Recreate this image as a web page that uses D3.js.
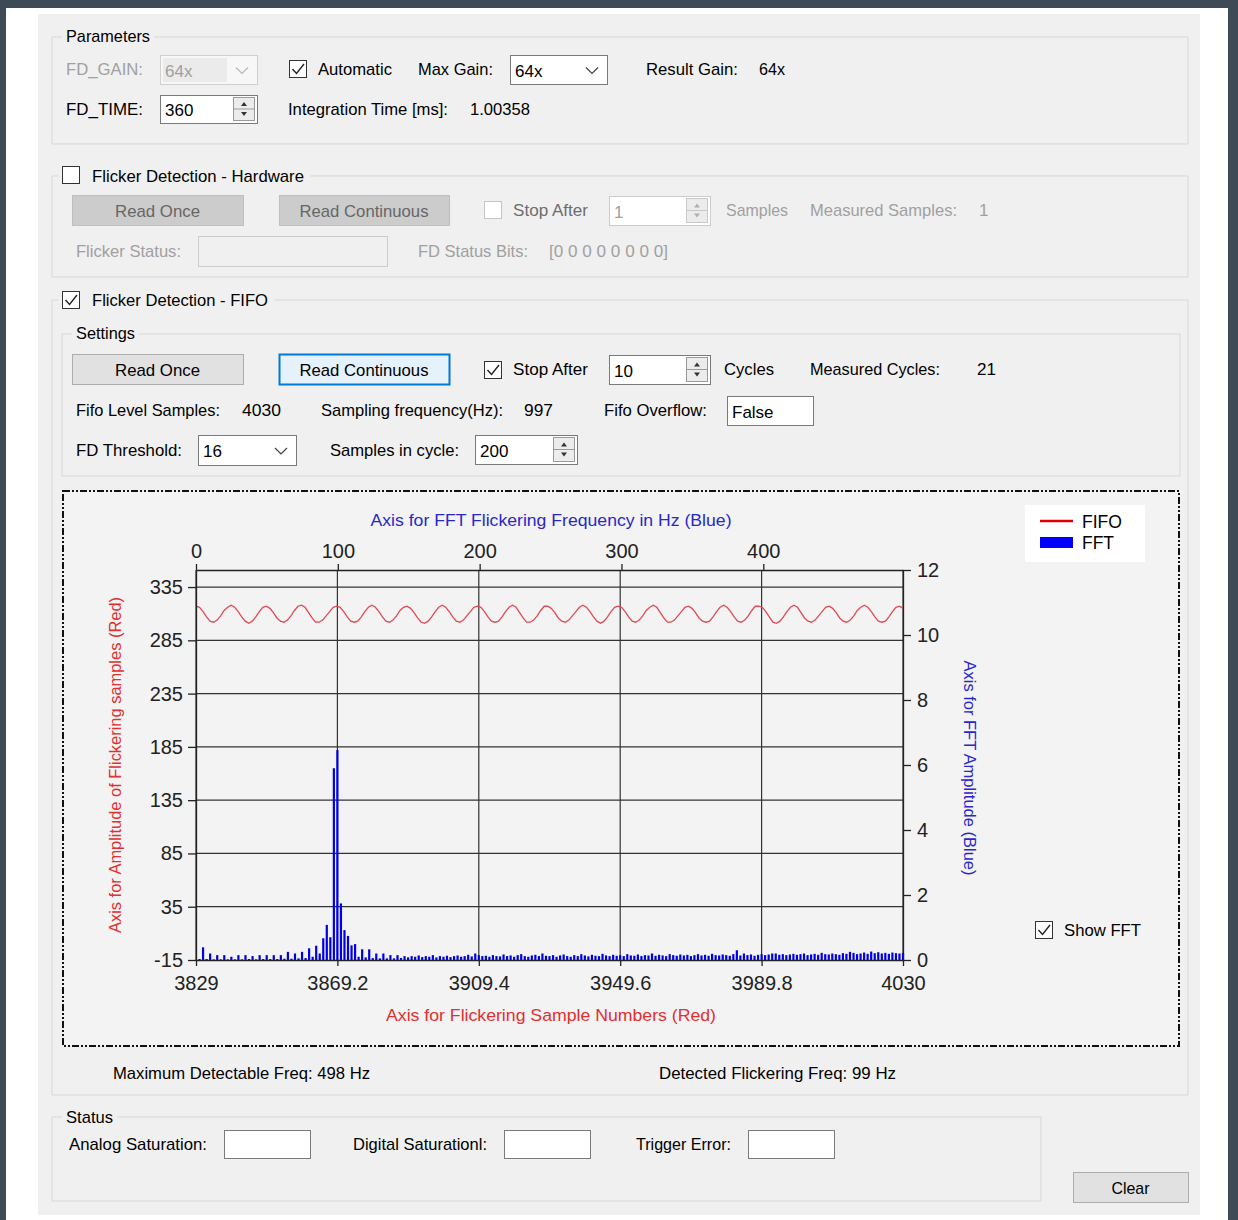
<!DOCTYPE html>
<html><head><meta charset="utf-8">
<script src="https://cdn.jsdelivr.net/npm/d3@7"></script>
<style>html,body{margin:0;padding:0;background:#fff;} svg{display:block;} text{font-family:"Liberation Sans",Arial,sans-serif;}</style>
</head><body>
<svg id="c" width="1238" height="1220"></svg>
<script>
// ---------------- chart data ----------------
const sampleTicks = [3829, 3869.2, 3909.4, 3949.6, 3989.8, 4030];
const freqTicks = [0, 100, 200, 300, 400];
const leftTicks = [-15, 35, 85, 135, 185, 235, 285, 335];
const rightTicks = [0, 2, 4, 6, 8, 10, 12];
const fifoStart = 3829;
const fifoSamples = [
 317,316,312,307,303,302,304,308,313,316,
 318,316,312,307,303,301,303,307,312,316,
 317,315,311,306,303,302,304,308,313,317,
 318,316,311,306,302,302,304,308,312,316,
 317,316,312,307,303,302,303,307,312,316,
 318,316,312,307,303,302,304,308,313,316,
 317,315,311,306,302,301,303,307,312,316,
 318,316,312,307,303,302,304,308,312,316,
 317,316,312,307,303,302,303,307,312,316,
 318,316,311,306,302,302,304,308,313,317,
 317,315,311,306,303,302,304,308,312,316,
 318,316,312,307,303,301,303,307,312,316,
 317,316,312,307,303,302,304,308,313,316,
 318,316,311,306,302,302,304,308,312,316,
 317,315,311,306,303,302,303,307,312,316,
 318,316,312,307,303,302,304,308,313,317,
 317,316,312,307,302,301,303,307,312,316,
 318,316,311,306,303,302,304,308,312,316,
 317,315,311,306,303,302,304,308,313,316,
 318,316,312,307,303,302,303,307,312,316,
 317,315
];
const samplingFreq = 997;
const fftSize = 400;
const fftAmplitude = [
 0,0.03,0.39,0.03,0.2,0.02,0.15,0.02,0.15,0.02,
 0.1,0.02,0.15,0.02,0.15,0.03,0.12,0.02,0.15,0.03,
 0.15,0.03,0.15,0.03,0.15,0.04,0.25,0.04,0.2,0.05,
 0.25,0.06,0.36,0.1,0.44,0.2,0.67,1.08,0.7,5.9,
 6.46,1.74,0.92,0.74,0.45,0.49,0.1,0.33,0.08,0.33,
 0.06,0.2,0.05,0.2,0.05,0.15,0.05,0.15,0.06,0.12,
 0.08,0.12,0.1,0.14,0.09,0.12,0.1,0.15,0.08,0.12,
 0.1,0.13,0.09,0.12,0.14,0.1,0.12,0.16,0.11,0.2,
 0.15,0.12,0.13,0.1,0.15,0.12,0.11,0.17,0.12,0.14,
 0.1,0.15,0.18,0.12,0.1,0.14,0.16,0.12,0.2,0.13,
 0.12,0.15,0.1,0.14,0.17,0.12,0.1,0.15,0.12,0.18,
 0.14,0.11,0.16,0.13,0.12,0.19,0.14,0.12,0.16,0.13,
 0.15,0.12,0.18,0.14,0.13,0.17,0.12,0.15,0.14,0.2,
 0.13,0.16,0.14,0.12,0.18,0.15,0.13,0.17,0.14,0.16,
 0.12,0.15,0.18,0.14,0.16,0.13,0.19,0.15,0.14,0.17,
 0.15,0.13,0.18,0.3,0.14,0.2,0.15,0.17,0.13,0.16,
 0.18,0.15,0.17,0.2,0.2,0.16,0.18,0.15,0.17,0.19,
 0.16,0.18,0.2,0.15,0.17,0.19,0.16,0.22,0.18,0.17,
 0.2,0.18,0.16,0.21,0.19,0.25,0.22,0.18,0.2,0.23,
 0.19,0.26,0.21,0.24,0.2,0.22,0.19,0.23,0.21,0.2,
 0.22
];
const legendItems = ["FIFO", "FFT"];

// ---------------- drawing ----------------
const svg = d3.select("#c");
const FONT = "'Liberation Sans',Arial,sans-serif";

function txt(x, y, s, o = {}) {
  const t = svg.append("text").attr("x", x).attr("y", y).attr("dy", "0.36em")
    .attr("font-size", o.size || 17).attr("fill", o.fill || "#000")
    .attr("text-anchor", o.anchor || "start").text(s);
  if (o.w) t.attr("textLength", o.w).attr("lengthAdjust", "spacingAndGlyphs");
  return t;
}
function rect(x, y, w, h, fill, stroke, sw) {
  return svg.append("rect").attr("x", x).attr("y", y).attr("width", w).attr("height", h)
    .attr("fill", fill).attr("stroke", stroke || "none").attr("stroke-width", sw || 1);
}
function group(x, y, w, h, g0, g1) {
  svg.append("path").attr("fill", "none").attr("stroke", "#d7d7d7").attr("stroke-width", 1)
    .attr("d", `M${g1},${y}H${x + w}V${y + h}H${x}V${y}H${g0}`);
}
function checkbox(x, y, checked, disabled) {
  rect(x + 0.5, y + 0.5, 17, 17, "#fff", disabled ? "#c6c6c6" : "#333", 1);
  if (checked) svg.append("path").attr("fill", "none").attr("stroke", "#222").attr("stroke-width", 1.4)
    .attr("d", `M${x + 3.5},${y + 9}L${x + 7.5},${y + 13.5}L${x + 15},${y + 4}`);
}
function spinner(x, y, h, disabled) {
  const c = disabled ? "#c8c8c8" : "#9a9a9a";
  rect(x + 0.5, y + 2.5, 21, h - 5, "#ececec", c, 1);
  svg.append("line").attr("x1", x + 1).attr("x2", x + 21).attr("y1", y + h / 2).attr("y2", y + h / 2).attr("stroke", c);
  const cx = x + 11, a = disabled ? "#b0b0b0" : "#333";
  svg.append("path").attr("fill", a).attr("d", `M${cx - 3},${y + h / 2 - 3}L${cx + 3},${y + h / 2 - 3}L${cx},${y + h / 2 - 7}Z`);
  svg.append("path").attr("fill", a).attr("d", `M${cx - 3},${y + h / 2 + 3}L${cx + 3},${y + h / 2 + 3}L${cx},${y + h / 2 + 7}Z`);
}
function numeric(x, y, w, h, s, disabled) {
  rect(x + 0.5, y + 0.5, w, h, "#fff", disabled ? "#cccccc" : "#7a7a7a", 1);
  txt(x + 5, y + h / 2 + 1, s, { fill: disabled ? "#a0a0a0" : "#000" });
  spinner(x + w - 24, y, h, disabled);
}
function combo(x, y, w, h, s, disabled) {
  if (disabled) {
    rect(x + 0.5, y + 0.5, w, h, "#f7f7f7", "#d0d0d0", 1);
    rect(x + 3, y + 3, w - 33, h - 5, "#ebebeb");
  } else rect(x + 0.5, y + 0.5, w, h, "#fff", "#7a7a7a", 1);
  txt(x + 5, y + h / 2 + 1, s, { fill: disabled ? "#a0a0a0" : "#000" });
  const cx = x + w - 15, cy = y + h / 2 + 1;
  svg.append("path").attr("fill", "none").attr("stroke", disabled ? "#b8b8b8" : "#444").attr("stroke-width", 1.2)
    .attr("d", `M${cx - 6},${cy - 3}L${cx},${cy + 3}L${cx + 6},${cy - 3}`);
}
function button(x, y, w, h, s, style, tw) {
  const st = {
    disabled: ["#cccccc", "#bfbfbf", 1, "#666666"],
    normal: ["#e1e1e1", "#adadad", 1, "#000"],
    focus: ["#e5f1fb", "#0078d7", 2, "#000"]
  }[style];
  rect(x + 0.5, y + 0.5, w, h, st[0], st[1], st[2]);
  txt(x + w / 2, y + h / 2 + 1, s, { fill: st[3], anchor: "middle", w: tw });
}
function textbox(x, y, w, h, s, disabled) {
  rect(x + 0.5, y + 0.5, w, h, disabled ? "#f0f0f0" : "#fff", disabled ? "#cccccc" : "#7a7a7a", 1);
  if (s) txt(x + 5, y + h / 2 + 1, s);
}

// window frame & panel
rect(0, 0, 1238, 1220, "#3e4a56");
rect(6, 8, 1222, 1212, "#ffffff");
rect(38, 14, 1162, 1201, "#f0f0f0");

const GRAY = "#a0a0a0";

// Parameters
group(52, 37, 1136, 107, 62, 154);
txt(66, 36, "Parameters", { w: 84 });
txt(66, 69, "FD_GAIN:", { w: 77, fill: GRAY });
combo(160, 55, 97, 29, "64x", true);
checkbox(289, 60, true, false);
txt(318, 69, "Automatic", { w: 74 });
txt(418, 69, "Max Gain:", { w: 75 });
combo(510, 55, 97, 29, "64x", false);
txt(646, 69, "Result Gain:", { w: 92 });
txt(759, 69, "64x", { w: 26 });
txt(66, 109, "FD_TIME:", { w: 77 });
numeric(160, 95, 97, 28, "360", false);
txt(288, 109, "Integration Time [ms]:", { w: 160 });
txt(470, 109, "1.00358", { w: 60 });

// Flicker Detection - Hardware
group(52, 176, 1136, 101, 58, 310);
checkbox(62, 166, false, false);
txt(92, 176, "Flicker Detection - Hardware", { w: 212 });
button(72, 195, 171, 30, "Read Once", "disabled", 85);
button(279, 195, 170, 30, "Read Continuous", "disabled", 129);
checkbox(484, 201, false, true);
txt(513, 210, "Stop After", { w: 75, fill: "#6d6d6d" });
numeric(609, 196, 101, 29, "1", true);
txt(726, 210, "Samples", { w: 62, fill: GRAY });
txt(810, 210, "Measured Samples:", { w: 147, fill: GRAY });
txt(979, 210, "1", { fill: GRAY });
txt(76, 251, "Flicker Status:", { w: 105, fill: GRAY });
textbox(198, 236, 189, 30, "", true);
txt(418, 251, "FD Status Bits:", { w: 110, fill: GRAY });
txt(549, 251, "[0 0 0 0 0 0 0 0]", { w: 119, fill: GRAY });

// Flicker Detection - FIFO
group(52, 300, 1136, 795, 58, 274);
checkbox(62, 291, true, false);
txt(92, 300, "Flicker Detection - FIFO", { w: 176 });
group(62, 334, 1118, 142, 72, 139);
txt(76, 333, "Settings", { w: 59 });
button(72, 354, 171, 30, "Read Once", "normal", 85);
button(279, 354, 170, 30, "Read Continuous", "focus", 129);
checkbox(484, 361, true, false);
txt(513, 369, "Stop After", { w: 75 });
numeric(609, 355, 101, 29, "10", false);
txt(724, 369, "Cycles", { w: 50 });
txt(810, 369, "Measured Cycles:", { w: 130 });
txt(977, 369, "21", { w: 19 });
txt(76, 410, "Fifo Level Samples:", { w: 144 });
txt(242, 410, "4030", { w: 39 });
txt(321, 410, "Sampling frequency(Hz):", { w: 182 });
txt(524, 410, "997", { w: 29 });
txt(604, 410, "Fifo Overflow:", { w: 103 });
textbox(727, 396, 86, 29, "False");
txt(76, 450, "FD Threshold:", { w: 106 });
combo(198, 435, 98, 30, "16", false);
txt(330, 450, "Samples in cycle:", { w: 129 });
numeric(475, 435, 102, 29, "200", false);

// chart frame (dash-dot-dot)
rect(63, 491, 1116, 555, "#f3f3f3", "#111", 2).attr("stroke-dasharray", "7,2,2,2,2,2");

// scales
const X0 = 196, X1 = 903, Y0 = 960, Y1 = 570;
const xS = d3.scaleLinear().domain([3829, 4030]).range([X0, X1]);
const xF = d3.scaleLinear().domain([0, 498.5]).range([X0, X1]);
const yL = d3.scaleLinear().domain([-15, 351]).range([Y0, Y1]);
const yR = d3.scaleLinear().domain([0, 12]).range([Y0, Y1]);

const plot = svg.append("g");
// grid
plot.selectAll("line.hg").data(leftTicks.filter(d => d > -15)).join("line")
  .attr("x1", X0).attr("x2", X1).attr("y1", d => yL(d)).attr("y2", d => yL(d))
  .attr("stroke", "#333").attr("stroke-width", 1.2);
plot.selectAll("line.vg").data(sampleTicks).join("line")
  .attr("x1", d => xS(d)).attr("x2", d => xS(d)).attr("y1", Y1).attr("y2", Y0)
  .attr("stroke", "#333").attr("stroke-width", 1.2);

// FFT bars
plot.selectAll("rect.fft").data(fftAmplitude).join("rect")
  .attr("x", (d, i) => xF(i * samplingFreq / fftSize) - 1.1).attr("width", 2.2)
  .attr("y", d => yR(d)).attr("height", d => Y0 - yR(d)).attr("fill", "#0000e6");

// FIFO line
const line = d3.line().x((d, i) => xS(fifoStart + i)).y(d => yL(d));
plot.append("path").datum(fifoSamples).attr("d", line).attr("fill", "none")
  .attr("stroke", "#e04a55").attr("stroke-width", 1.3);

// axes
function styleAxis(g) {
  g.selectAll("path.domain").attr("stroke", "#222").attr("stroke-width", 1.3);
  g.selectAll(".tick line").attr("stroke", "#222").attr("stroke-width", 1.3);
  g.selectAll(".tick text").attr("font-size", 20).attr("fill", "#222").attr("font-family", FONT);
}
const plain = d => String(d);
svg.append("g").attr("transform", `translate(${X0},0)`)
  .call(d3.axisLeft(yL).tickValues(leftTicks).tickSize(8).tickSizeOuter(0).tickPadding(5).tickFormat(plain)).call(styleAxis);
svg.append("g").attr("transform", `translate(${X1},0)`)
  .call(d3.axisRight(yR).tickValues(rightTicks).tickSize(8).tickSizeOuter(0).tickPadding(6).tickFormat(plain)).call(styleAxis);
svg.append("g").attr("transform", `translate(0,${Y0})`)
  .call(d3.axisBottom(xS).tickValues(sampleTicks).tickSize(6).tickSizeOuter(0).tickPadding(10).tickFormat(plain)).call(styleAxis);
svg.append("g").attr("transform", `translate(0,${Y1})`)
  .call(d3.axisTop(xF).tickValues(freqTicks).tickSize(6).tickSizeOuter(0).tickPadding(6).tickFormat(plain)).call(styleAxis);

// axis titles
txt(551, 520, "Axis for FFT Flickering Frequency in Hz (Blue)", { w: 361, fill: "#2828c8", anchor: "middle" });
txt(551, 1015, "Axis for Flickering Sample Numbers (Red)", { w: 330, fill: "#e03030", anchor: "middle" });
txt(0, 0, "Axis for Amplitude of Flickering samples (Red)", { w: 336, fill: "#e03030", anchor: "middle" })
  .attr("transform", "translate(115,765) rotate(-90)");
txt(0, 0, "Axis for FFT Amplitude (Blue)", { w: 215, fill: "#2828c8", anchor: "middle" })
  .attr("transform", "translate(970,768) rotate(90)");

// legend
rect(1025, 505, 120, 57, "#ffffff");
svg.append("line").attr("x1", 1040).attr("x2", 1073).attr("y1", 521).attr("y2", 521).attr("stroke", "#e00000").attr("stroke-width", 2.5);
rect(1040, 537, 33, 11, "#0000ff");
legendItems.forEach((s, i) => txt(1082, 521 + i * 21, s, { size: 19, w: i === 0 ? 40 : 32 }));

// show fft
checkbox(1035, 921, true, false);
txt(1064, 930, "Show FFT", { w: 77 });

txt(113, 1073, "Maximum Detectable Freq: 498 Hz", { w: 257 });
txt(659, 1073, "Detected Flickering Freq: 99 Hz", { w: 237 });

// Status
group(52, 1117, 989, 84, 62, 117);
txt(66, 1117, "Status", { w: 47 });
txt(69, 1144, "Analog Saturation:", { w: 138 });
textbox(224, 1130, 86, 28, "");
txt(353, 1144, "Digital Saturationl:", { w: 134 });
textbox(504, 1130, 86, 28, "");
txt(636, 1144, "Trigger Error:", { w: 95 });
textbox(748, 1130, 86, 28, "");
button(1073, 1172, 115, 30, "Clear", "normal", 38);
</script>
</body></html>
